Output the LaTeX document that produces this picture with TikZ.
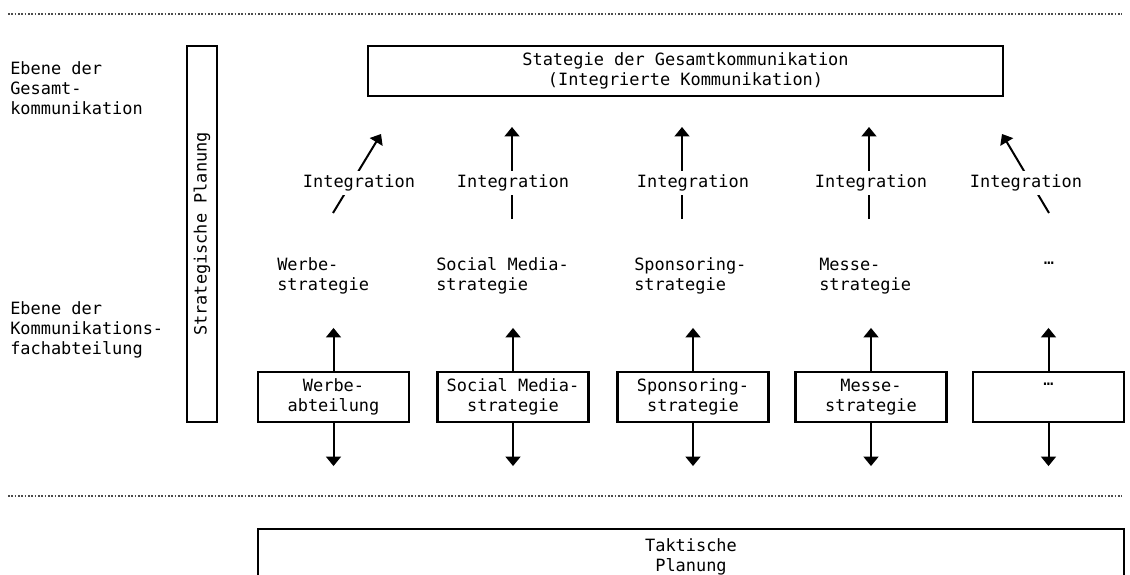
\documentclass[tikz,border=0pt]{standalone}
\usepackage{fontspec}
\setmainfont{DejaVu Sans Mono}
\usetikzlibrary{arrows.meta}
\begin{document}
\begin{tikzpicture}[x=0.75pt,y=-0.75pt,
  txt/.style={font=\fontsize{12.7}{15}\selectfont, inner sep=0pt, align=left},
  label/.style={font=\fontsize{12.7}{15}\selectfont, fill=white, inner xsep=2pt, inner ysep=3pt},
  box/.style={draw, line width=1.6pt, font=\fontsize{12.7}{15}\selectfont, align=center,
    inner sep=0pt, minimum height=37.5pt},
  colbox/.style={box, minimum width=113.25pt},
  arr/.style={line width=1.5pt, -{Triangle[width=11pt,length=7pt]}},
  sep/.style={line width=1.8pt, black!70, dash pattern=on 1.2pt off 1.3pt}]
\useasboundingbox (0,0) rectangle (1130,574);
\clip (0,0) rectangle (1130,574);

% separators
\coordinate (s1a) at (8,14);  \coordinate (s1b) at (1122,14);
\coordinate (s2a) at (8,496); \coordinate (s2b) at (1122,496);
\draw[sep] (s1a) -- (s1b);
\draw[sep] (s2a) -- (s2b);

% level labels
\node[txt, anchor=west] (lvl1) at (10,88) {Ebene der\\Gesamt-\\kommunikation};
\node[txt, anchor=west] (lvl2) at (10,330) {Ebene der\\Kommunikations-\\fachabteilung};

% strategic planning bar
\node[box, rotate=90, minimum width=282pt, minimum height=22.5pt] (plan) at (202,234) {Strategische Planung};

% overall strategy
\node[box, minimum width=476pt] (top) at (685.5,71) {Stategie der Gesamtkommunikation\\(Integrierte Kommunikation)};

% department boxes
\node[colbox] (b1) at (333.5,397) {Werbe-\\abteilung};
\node[colbox] (b2) at (513,397) {Social Media-\\strategie};
\node[colbox] (b3) at (693,397) {Sponsoring-\\strategie};
\node[colbox] (b4) at (871,397) {Messe-\\strategie};
\node[colbox] (b5) at (1048.5,397) {…\\\strut};

% strategies
\node[txt, anchor=west] (t1) at (277,276) {Werbe-\\strategie};
\node[txt, anchor=west] (t2) at (436,276) {Social Media-\\strategie};
\node[txt, anchor=west] (t3) at (634,276) {Sponsoring-\\strategie};
\node[txt, anchor=west] (t4) at (819,276) {Messe-\\strategie};
\node[txt] (t5) at (1049,276) {…\\\strut};

% arrows from departments
\foreach \i in {1,...,5}{
  \draw[arr] (b\i.north) -- ++(0,-43);
  \draw[arr] (b\i.south) -- ++(0,43);
}

% integration arrows
\coordinate (i1a) at (333,213);  \coordinate (i1b) at (381,134);
\coordinate (i2a) at (512,219);  \coordinate (i2b) at (512,127);
\coordinate (i3a) at (682,219);  \coordinate (i3b) at (682,127);
\coordinate (i4a) at (869,219);  \coordinate (i4b) at (869,127);
\coordinate (i5a) at (1049,213); \coordinate (i5b) at (1002,134);
\foreach \i in {1,...,5}{
  \draw[arr] (i\i a) -- (i\i b);
}
\node[label] (n1) at (359,183) {Integration};
\node[label] (n2) at (513,183) {Integration};
\node[label] (n3) at (693,183) {Integration};
\node[label] (n4) at (871,183) {Integration};
\node[label] (n5) at (1026,183) {Integration};

% tactical planning
\node[box, minimum width=649.5pt, minimum height=42pt] (tac) at (691,557) {Taktische\\Planung};
\end{tikzpicture}
\end{document}
